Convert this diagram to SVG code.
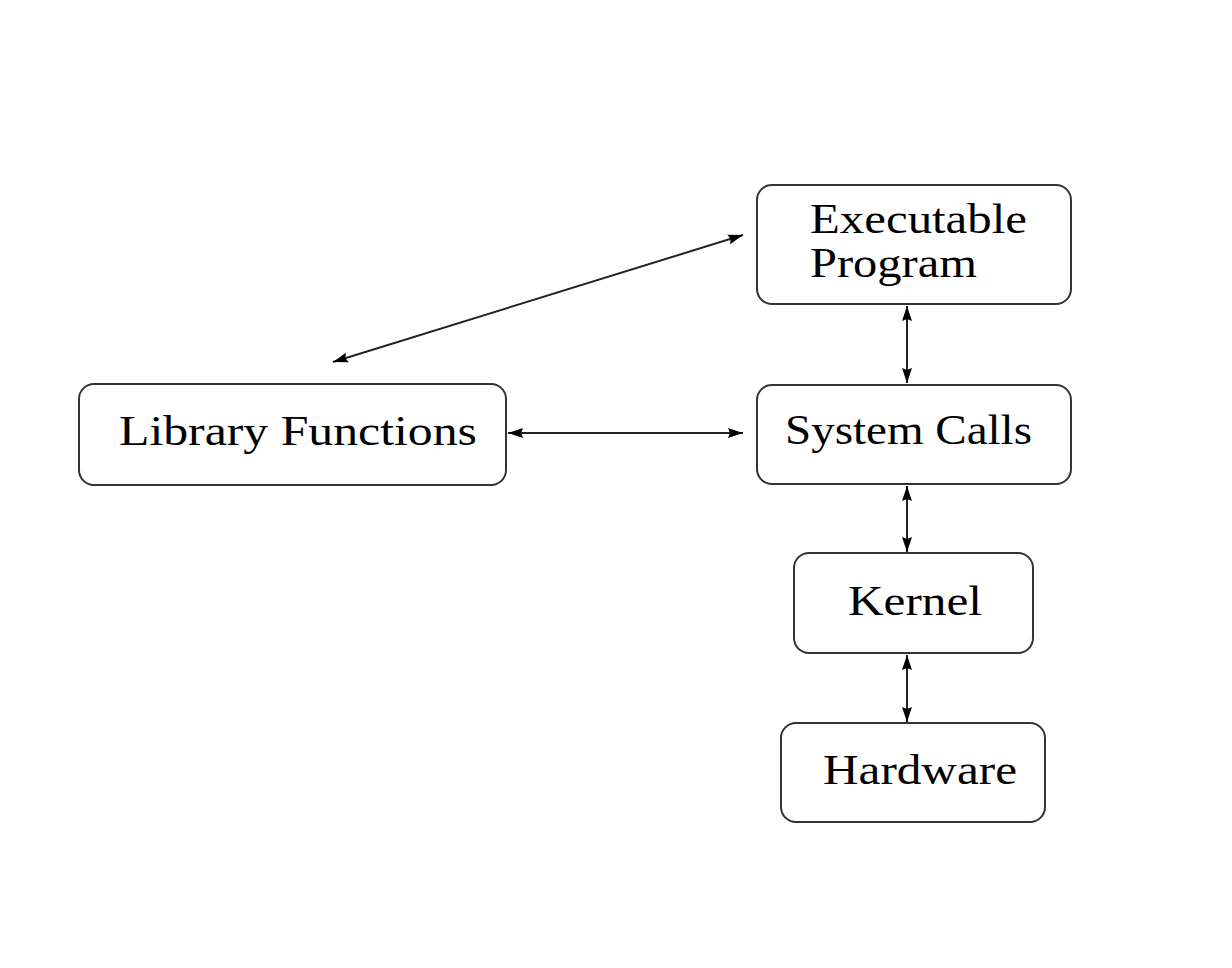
<svg xmlns="http://www.w3.org/2000/svg" width="1232" height="968" viewBox="0 0 1232 968">
<style>
.box{fill:#fff;stroke:#333;stroke-width:2}
.lbl{font-family:"Liberation Serif","Times New Roman",serif;font-size:43px;fill:#000}
.con{stroke:#222;stroke-width:2;fill:none;marker-start:url(#ah);marker-end:url(#ah)}
</style>
<defs>
<marker id="ah" markerUnits="userSpaceOnUse" markerWidth="16" markerHeight="12" refX="15" refY="6" orient="auto-start-reverse">
<path d="M0,1 L15,6 L0,11 L2,6 Z" fill="#000"/>
</marker>
</defs>
<rect width="1232" height="968" fill="#fff"/>
<g id="connectors">
<line class="con" x1="333" y1="362" x2="743" y2="235"/>
<line class="con" x1="508" y1="433" x2="743" y2="433"/>
<line class="con" x1="907" y1="306" x2="907" y2="383"/>
<line class="con" x1="907" y1="486" x2="907" y2="552"/>
<line class="con" x1="907" y1="655" x2="907" y2="722"/>
</g>
<g id="executable">
<rect class="box" x="757" y="185" width="314" height="119" rx="15"/>
<text class="lbl" x="810" y="233" textLength="217" lengthAdjust="spacingAndGlyphs">Executable</text>
<text class="lbl" x="810" y="277" textLength="167" lengthAdjust="spacingAndGlyphs">Program</text>
</g>
<g id="library">
<rect class="box" x="79" y="384" width="427" height="101" rx="15"/>
<text class="lbl" x="119" y="445" textLength="358" lengthAdjust="spacingAndGlyphs">Library Functions</text>
</g>
<g id="syscalls">
<rect class="box" x="757" y="385" width="314" height="99" rx="15"/>
<text class="lbl" x="785" y="444" textLength="247" lengthAdjust="spacingAndGlyphs">System Calls</text>
</g>
<g id="kernel">
<rect class="box" x="794" y="553" width="239" height="100" rx="15"/>
<text class="lbl" x="848" y="615" textLength="134" lengthAdjust="spacingAndGlyphs">Kernel</text>
</g>
<g id="hardware">
<rect class="box" x="781" y="723" width="264" height="99" rx="15"/>
<text class="lbl" x="823" y="784" textLength="194" lengthAdjust="spacingAndGlyphs">Hardware</text>
</g>
</svg>
